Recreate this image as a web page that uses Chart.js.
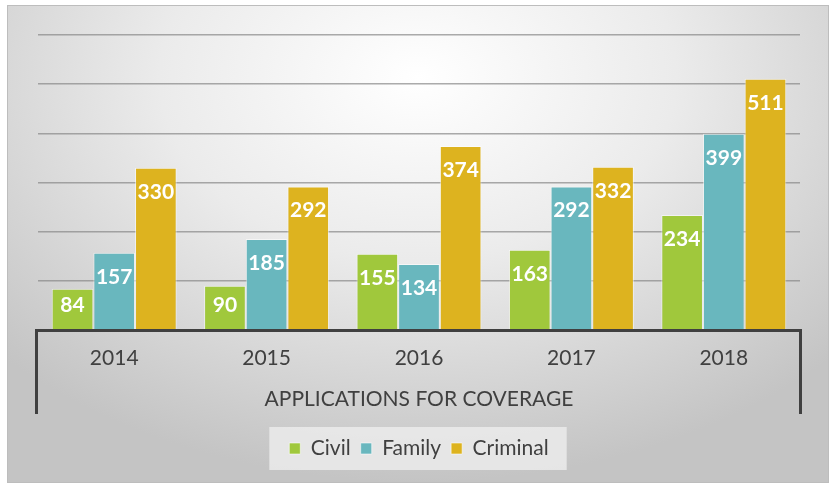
<!DOCTYPE html>
<html lang="en">
<head>
  <meta charset="UTF-8">
  <title>Applications for Coverage</title>
  <script src="https://cdn.jsdelivr.net/npm/chart.js"></script>
  <style>
    html, body {
      margin: 0;
      padding: 0;
      background: #ffffff;
      overflow: hidden;
    }

    #frame {
      position: absolute;
      left: 7px;
      top: 5px;
      width: 822px;
      height: 478px;
      box-sizing: border-box;
      border: 1px solid #bdbdbd;
      background: radial-gradient(ellipse 70% 85% at 50% 15%, #ffffff 0%, #ebebeb 45%, #c4c4c4 100%);
    }

    #wrap {
      position: absolute;
      left: 0;
      top: 0;
      width: 829px;
      height: 485px;
    }
  </style>
</head>
<body>

<div id="frame"></div>
<div id="wrap"><canvas id="barChart" width="829" height="485"></canvas></div>

<script>
  // Chart data
  const years = ['2014', '2015', '2016', '2017', '2018'];
  const civil = [84, 90, 155, 163, 234];
  const family = [157, 185, 134, 292, 399];
  const criminal = [330, 292, 374, 332, 511];
  const axisTitle = 'APPLICATIONS FOR COVERAGE';

  const textColor = '#404040';
  const fontName = 'Lato, "Open Sans", sans-serif';

  // white value labels near the top of each bar
  const valueLabels = {
    id: 'valueLabels',
    afterDatasetsDraw(chart) {
      const ctx = chart.ctx;
      ctx.save();
      ctx.font = 'bold 21px ' + fontName;
      ctx.fillStyle = '#ffffff';
      ctx.textAlign = 'center';
      ctx.textBaseline = 'middle';
      chart.data.datasets.forEach((ds, i) => {
        chart.getDatasetMeta(i).data.forEach((bar, j) => {
          const y = Math.min(bar.y + 24, bar.base - 24);
          ctx.fillText(ds.data[j], bar.x, y);
        });
      });
      ctx.restore();
    }
  };

  // dark axis frame under the bars and a light box behind the legend
  const axisFrame = {
    id: 'axisFrame',
    beforeDraw(chart) {
      const lg = chart.legend;
      if (!lg || !lg.legendHitBoxes.length) return;
      const boxes = lg.legendHitBoxes;
      const l = Math.min(...boxes.map(b => b.left)) - 20;
      const r = Math.max(...boxes.map(b => b.left + b.width)) + 18;
      const t = boxes[0].top - 11;
      const h = boxes[0].height + 22;
      const ctx = chart.ctx;
      ctx.save();
      ctx.fillStyle = 'rgba(235,235,235,0.85)';
      ctx.fillRect(l, t, r - l, h);
      ctx.restore();
    },
    afterDraw(chart) {
      const a = chart.chartArea;
      const ctx = chart.ctx;
      ctx.save();
      ctx.strokeStyle = '#404040';
      ctx.lineWidth = 3;
      ctx.beginPath();
      ctx.moveTo(a.left - 1.5, a.bottom + 84);
      ctx.lineTo(a.left - 1.5, a.bottom + 0.5);
      ctx.lineTo(a.right + 0.5, a.bottom + 0.5);
      ctx.lineTo(a.right + 0.5, a.bottom + 84);
      ctx.stroke();
      ctx.restore();
    }
  };

  const barBorder = 'rgba(255,255,255,0.55)';

  const ctx = document.getElementById('barChart').getContext('2d');
  const chart = new Chart(ctx, {
    type: 'bar',
    data: {
      labels: years,
      datasets: [
        {
          label: 'Civil',
          data: civil,
          backgroundColor: '#a0c83c',
          borderColor: barBorder,
          borderWidth: 1
        },
        {
          label: 'Family',
          data: family,
          backgroundColor: '#69b7be',
          borderColor: barBorder,
          borderWidth: 1
        },
        {
          label: 'Criminal',
          data: criminal,
          backgroundColor: '#ddb31f',
          borderColor: barBorder,
          borderWidth: 1
        }
      ]
    },
    options: {
      responsive: false,
      animation: false,
      categoryPercentage: 0.82,
      barPercentage: 1.0,
      layout: {
        padding: { left: 38, right: 29, top: 35, bottom: 16 }
      },
      scales: {
        x: {
          grid: { display: false },
          border: { display: false },
          ticks: {
            color: textColor,
            font: { family: fontName, size: 21 },
            padding: 8
          },
          title: {
            display: true,
            text: axisTitle,
            color: textColor,
            font: { family: fontName, size: 21 },
            padding: { top: 0, bottom: 16 }
          },
          afterFit(scale) {
            scale.height = 98;
          }
        },
        y: {
          min: 0,
          max: 600,
          ticks: { display: false, stepSize: 100 },
          border: { display: false },
          grid: {
            color: 'rgba(135,135,135,0.7)',
            lineWidth: 1.5,
            drawTicks: false
          }
        }
      },
      plugins: {
        legend: {
          position: 'bottom',
          labels: {
            color: textColor,
            font: { family: fontName, size: 21 },
            boxWidth: 11,
            boxHeight: 11,
            padding: 10
          }
        },
        tooltip: { enabled: false }
      }
    },
    plugins: [valueLabels, axisFrame]
  });
</script>

</body>
</html>
